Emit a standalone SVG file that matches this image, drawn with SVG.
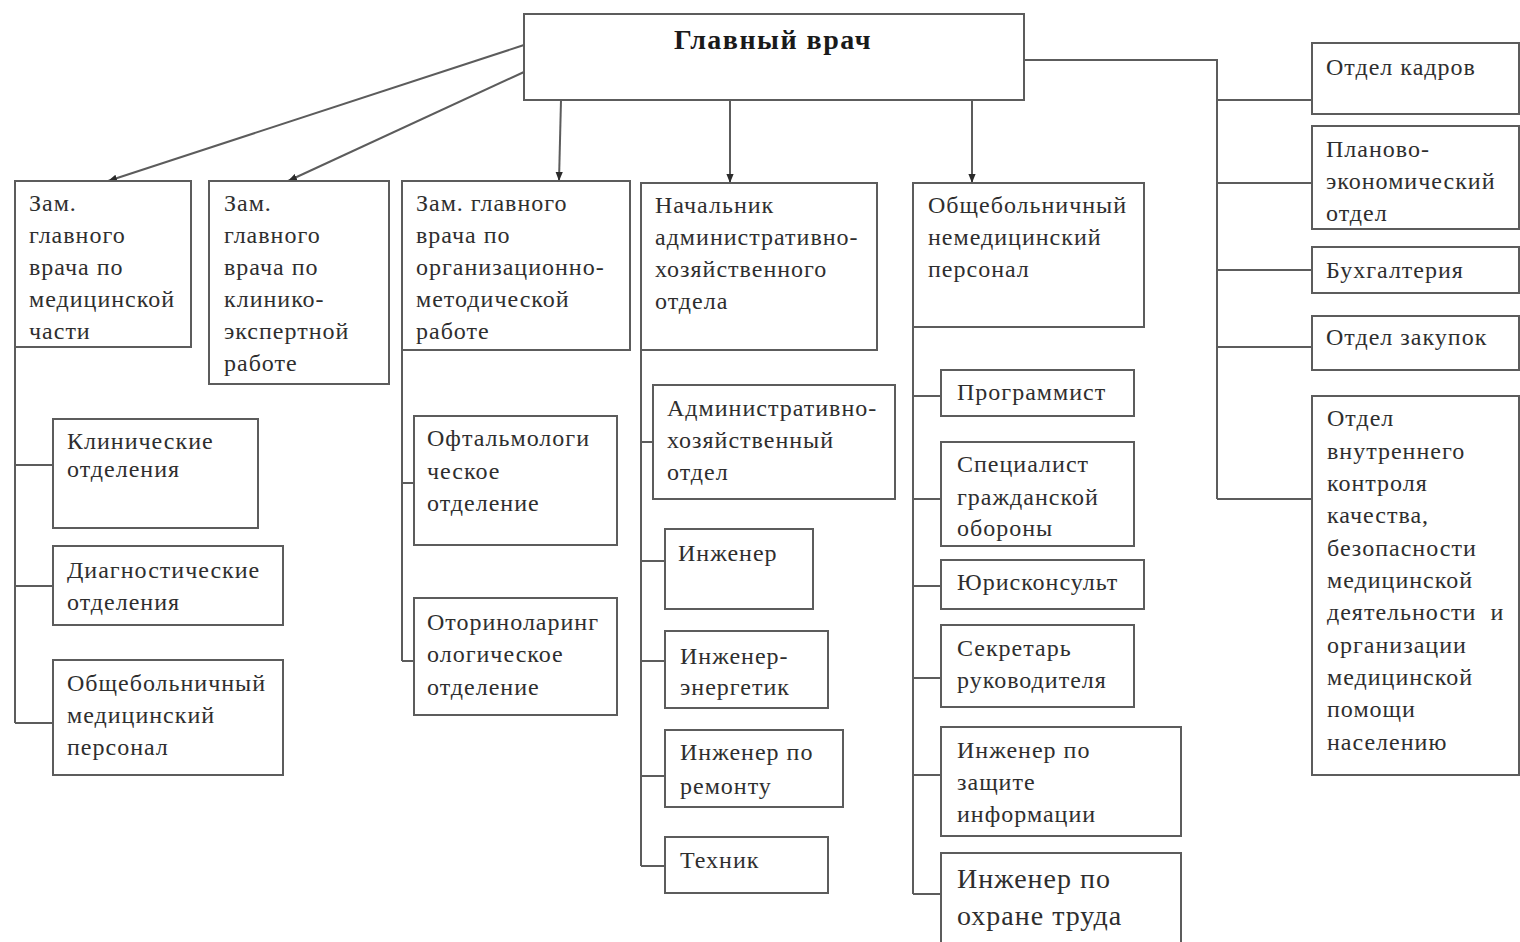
<svg xmlns="http://www.w3.org/2000/svg" width="1520" height="942" viewBox="0 0 1520 942">
<style>
.box{fill:#fff;stroke:#5c5c5c;stroke-width:2}
.ln{fill:none;stroke:#5c5c5c;stroke-width:2}
.t{font-family:"Liberation Serif","DejaVu Serif",serif;font-size:24px;letter-spacing:1px;fill:#2e2e2e}
.b{font-weight:bold;font-size:28px;letter-spacing:1.5px;fill:#1a1a1a}
.big{font-size:28px}
</style>
<defs>
<marker id="ah" viewBox="0 0 10 10" refX="10" refY="5" markerWidth="9" markerHeight="9" markerUnits="userSpaceOnUse" orient="auto">
<path d="M0,1 L10,5 L0,9 z" fill="#2b2b2b"/>
</marker>
</defs>
<rect width="1520" height="942" fill="#fff"/>
<g id="connectors">
<line class="ln" x1="524" y1="45" x2="108" y2="181" marker-end="url(#ah)"/>
<line class="ln" x1="524" y1="72" x2="288" y2="181" marker-end="url(#ah)"/>
<line class="ln" x1="561" y1="100" x2="559" y2="181" marker-end="url(#ah)"/>
<line class="ln" x1="730" y1="100" x2="730" y2="183" marker-end="url(#ah)"/>
<line class="ln" x1="972" y1="100" x2="972" y2="183" marker-end="url(#ah)"/>
<polyline class="ln" points="1024,60 1217,60 1217,499"/>
<line class="ln" x1="1217" y1="100" x2="1312" y2="100"/>
<line class="ln" x1="1217" y1="183" x2="1312" y2="183"/>
<line class="ln" x1="1217" y1="270" x2="1312" y2="270"/>
<line class="ln" x1="1217" y1="347" x2="1312" y2="347"/>
<line class="ln" x1="1217" y1="499" x2="1312" y2="499"/>
<line class="ln" x1="15" y1="347" x2="15" y2="723"/>
<line class="ln" x1="15" y1="465" x2="53" y2="465"/>
<line class="ln" x1="15" y1="586" x2="53" y2="586"/>
<line class="ln" x1="15" y1="723" x2="53" y2="723"/>
<line class="ln" x1="402" y1="350" x2="402" y2="661"/>
<line class="ln" x1="402" y1="483" x2="414" y2="483"/>
<line class="ln" x1="402" y1="661" x2="414" y2="661"/>
<line class="ln" x1="641" y1="350" x2="641" y2="866"/>
<line class="ln" x1="641" y1="442" x2="653" y2="442"/>
<line class="ln" x1="641" y1="561" x2="665" y2="561"/>
<line class="ln" x1="641" y1="661" x2="665" y2="661"/>
<line class="ln" x1="641" y1="776" x2="665" y2="776"/>
<line class="ln" x1="641" y1="866" x2="665" y2="866"/>
<line class="ln" x1="913" y1="327" x2="913" y2="894"/>
<line class="ln" x1="913" y1="396" x2="941" y2="396"/>
<line class="ln" x1="913" y1="499" x2="941" y2="499"/>
<line class="ln" x1="913" y1="586" x2="941" y2="586"/>
<line class="ln" x1="913" y1="678" x2="941" y2="678"/>
<line class="ln" x1="913" y1="775" x2="941" y2="775"/>
<line class="ln" x1="913" y1="894" x2="941" y2="894"/>
</g>
<g id="n-main"><rect class="box" x="524" y="14" width="500" height="86"/><text class="t b" x="773" y="49" text-anchor="middle">Главный врач</text></g>
<g id="n-zam-med"><rect class="box" x="15" y="181" width="176" height="166"/>
<text class="t" x="29" y="211">Зам.</text><text class="t" x="29" y="243">главного</text><text class="t" x="29" y="275">врача по</text><text class="t" x="29" y="307">медицинской</text><text class="t" x="29" y="339">части</text></g>
<g id="n-zam-kl"><rect class="box" x="209" y="181" width="180" height="203"/>
<text class="t" x="224" y="211">Зам.</text><text class="t" x="224" y="243">главного</text><text class="t" x="224" y="275">врача по</text><text class="t" x="224" y="307">клинико-</text><text class="t" x="224" y="339">экспертной</text><text class="t" x="224" y="371">работе</text></g>
<g id="n-zam-org"><rect class="box" x="402" y="181" width="228" height="169"/>
<text class="t" x="416" y="211">Зам. главного</text><text class="t" x="416" y="243">врача по</text><text class="t" x="416" y="275">организационно-</text><text class="t" x="416" y="307">методической</text><text class="t" x="416" y="339">работе</text></g>
<g id="n-nach-aho"><rect class="box" x="641" y="183" width="236" height="167"/>
<text class="t" x="655" y="213">Начальник</text><text class="t" x="655" y="245">административно-</text><text class="t" x="655" y="277">хозяйственного</text><text class="t" x="655" y="309">отдела</text></g>
<g id="n-nemed"><rect class="box" x="913" y="183" width="231" height="144"/>
<text class="t" x="928" y="213">Общебольничный</text><text class="t" x="928" y="245">немедицинский</text><text class="t" x="928" y="277">персонал</text></g>
<g id="n-kadry"><rect class="box" x="1312" y="43" width="207" height="71"/><text class="t" x="1326" y="75">Отдел кадров</text></g>
<g id="n-plan"><rect class="box" x="1312" y="126" width="207" height="103"/>
<text class="t" x="1326" y="157">Планово-</text><text class="t" x="1326" y="189">экономический</text><text class="t" x="1326" y="221">отдел</text></g>
<g id="n-buh"><rect class="box" x="1312" y="247" width="207" height="46"/><text class="t" x="1326" y="278">Бухгалтерия</text></g>
<g id="n-zak"><rect class="box" x="1312" y="316" width="207" height="54"/><text class="t" x="1326" y="345">Отдел закупок</text></g>
<g id="n-vnk"><rect class="box" x="1312" y="396" width="207" height="379"/>
<text class="t" x="1327" y="426">Отдел</text><text class="t" x="1327" y="459">внутреннего</text><text class="t" x="1327" y="491">контроля</text><text class="t" x="1327" y="523">качества,</text><text class="t" x="1327" y="556">безопасности</text><text class="t" x="1327" y="588">медицинской</text><text class="t" x="1327" y="620" xml:space="preserve">деятельности  и</text><text class="t" x="1327" y="653">организации</text><text class="t" x="1327" y="685">медицинской</text><text class="t" x="1327" y="717">помощи</text><text class="t" x="1327" y="750">населению</text></g>
<g id="n-klin"><rect class="box" x="53" y="419" width="205" height="109"/>
<text class="t" x="67" y="449">Клинические</text><text class="t" x="67" y="477">отделения</text></g>
<g id="n-diag"><rect class="box" x="53" y="546" width="230" height="79"/>
<text class="t" x="67" y="578">Диагностические</text><text class="t" x="67" y="610">отделения</text></g>
<g id="n-obmed"><rect class="box" x="53" y="660" width="230" height="115"/>
<text class="t" x="67" y="691">Общебольничный</text><text class="t" x="67" y="723">медицинский</text><text class="t" x="67" y="755">персонал</text></g>
<g id="n-oft"><rect class="box" x="414" y="416" width="203" height="129"/>
<text class="t" x="427" y="446">Офтальмологи</text><text class="t" x="427" y="479">ческое</text><text class="t" x="427" y="511">отделение</text></g>
<g id="n-lor"><rect class="box" x="414" y="598" width="203" height="117"/>
<text class="t" x="427" y="630">Оториноларинг</text><text class="t" x="427" y="662">ологическое</text><text class="t" x="427" y="695">отделение</text></g>
<g id="n-aho"><rect class="box" x="653" y="385" width="242" height="114"/>
<text class="t" x="667" y="416">Административно-</text><text class="t" x="667" y="448">хозяйственный</text><text class="t" x="667" y="480">отдел</text></g>
<g id="n-ing"><rect class="box" x="665" y="529" width="148" height="80"/><text class="t" x="678" y="561">Инженер</text></g>
<g id="n-ing-en"><rect class="box" x="665" y="631" width="163" height="77"/>
<text class="t" x="680" y="664">Инженер-</text><text class="t" x="680" y="695">энергетик</text></g>
<g id="n-ing-rem"><rect class="box" x="665" y="730" width="178" height="77"/>
<text class="t" x="680" y="760">Инженер по</text><text class="t" x="680" y="794">ремонту</text></g>
<g id="n-tech"><rect class="box" x="665" y="837" width="163" height="56"/><text class="t" x="680" y="868">Техник</text></g>
<g id="n-prog"><rect class="box" x="941" y="370" width="193" height="46"/><text class="t" x="957" y="400">Программист</text></g>
<g id="n-go"><rect class="box" x="941" y="442" width="193" height="104"/>
<text class="t" x="957" y="472">Специалист</text><text class="t" x="957" y="505">гражданской</text><text class="t" x="957" y="536">обороны</text></g>
<g id="n-jur"><rect class="box" x="941" y="560" width="203" height="49"/><text class="t" x="957" y="590">Юрисконсульт</text></g>
<g id="n-sekr"><rect class="box" x="941" y="625" width="193" height="82"/>
<text class="t" x="957" y="656">Секретарь</text><text class="t" x="957" y="688">руководителя</text></g>
<g id="n-zi"><rect class="box" x="941" y="727" width="240" height="109"/>
<text class="t" x="957" y="758">Инженер по</text><text class="t" x="957" y="790">защите</text><text class="t" x="957" y="822">информации</text></g>
<g id="n-ot"><rect class="box" x="941" y="853" width="240" height="95"/>
<text class="t big" x="957" y="888">Инженер по</text><text class="t big" x="957" y="925">охране труда</text></g>
</svg>
